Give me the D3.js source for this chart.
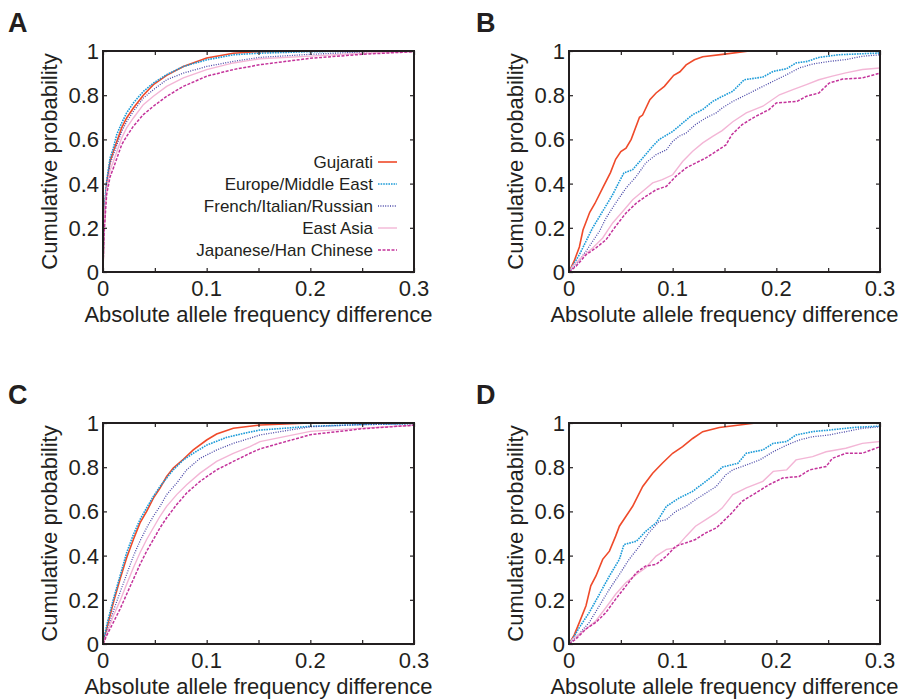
<html>
<head>
<title>Cumulative probability of allele frequency differences</title>
<style>
    body { margin: 0; background: #fff; }
    svg { display: block; }
    text { font-family: "Liberation Sans", Arial, Helvetica, sans-serif; fill: #231f20; }
</style>
</head>
<body>
<script src="https://d3js.org/d3.v7.min.js"></script>
<script>
    // Chart values
    const populations = ["Gujarati", "Europe/Middle East", "French/Italian/Russian", "East Asia", "Japanese/Han Chinese"];
    const panelLetters = ["A", "B", "C", "D"];
    const xTicks = [0, 0.1, 0.2, 0.3];
    const xTickLabels = ["0", "0.1", "0.2", "0.3"];
    const yTicks = [0, 0.2, 0.4, 0.6, 0.8, 1];
    const yTickLabels = ["0", "0.2", "0.4", "0.6", "0.8", "1"];
    const xMinorTicks = [0, 0.05, 0.1, 0.15, 0.2, 0.25, 0.3];

    // Panel A
    const aGujarati = [[0,0],[0.0005,0.12],[0.001,0.19],[0.002,0.31],[0.0035,0.40],[0.0068,0.50],[0.01,0.546],[0.018,0.652],[0.0228,0.697],[0.0293,0.742],[0.0389,0.80],[0.0486,0.848],[0.0614,0.89],[0.0775,0.93],[0.1,0.968],[0.1257,0.99],[0.15,0.997],[0.2,1],[0.3,1]];
    const aEurope = [[0,0],[0.0005,0.13],[0.001,0.2],[0.0019,0.32],[0.0035,0.41],[0.0068,0.516],[0.01,0.561],[0.0132,0.621],[0.018,0.674],[0.0228,0.72],[0.0293,0.765],[0.0389,0.817],[0.0486,0.855],[0.0614,0.893],[0.0775,0.93],[0.1,0.96],[0.1257,0.983],[0.15,0.99],[0.2,0.997],[0.3,1]];
    const aFrench = [[0,0],[0.0005,0.12],[0.001,0.19],[0.002,0.30],[0.0035,0.39],[0.0068,0.49],[0.01,0.53],[0.018,0.636],[0.0228,0.68],[0.0293,0.727],[0.0389,0.787],[0.0486,0.825],[0.0614,0.87],[0.0775,0.90],[0.1,0.93],[0.1257,0.953],[0.1514,0.971],[0.2,0.985],[0.25,0.995],[0.3,1]];
    const aEastAsia = [[0,0],[0.0005,0.11],[0.001,0.18],[0.002,0.29],[0.0035,0.37],[0.0068,0.46],[0.01,0.50],[0.018,0.606],[0.0228,0.652],[0.0293,0.697],[0.0389,0.757],[0.0486,0.795],[0.0614,0.84],[0.0775,0.878],[0.1,0.916],[0.1257,0.946],[0.1514,0.965],[0.2,0.977],[0.25,0.99],[0.3,0.998]];
    const aJapanese = [[0,0],[0.0005,0.10],[0.001,0.17],[0.0035,0.35],[0.0068,0.43],[0.01,0.47],[0.018,0.576],[0.0228,0.614],[0.0293,0.66],[0.0389,0.712],[0.0486,0.75],[0.0614,0.795],[0.0775,0.84],[0.1,0.886],[0.1257,0.916],[0.1514,0.938],[0.2,0.967],[0.25,0.985],[0.3,0.997]];

    // Panel B
    const bGujarati = [[0,0],[0.005,0.05],[0.01,0.113],[0.0135,0.19],[0.02,0.27],[0.025,0.31],[0.033,0.385],[0.04,0.45],[0.045,0.51],[0.05,0.545],[0.055,0.56],[0.06,0.60],[0.068,0.70],[0.071,0.71],[0.078,0.78],[0.084,0.81],[0.092,0.84],[0.101,0.89],[0.107,0.906],[0.113,0.937],[0.121,0.96],[0.129,0.974],[0.15,0.986],[0.174,1],[0.3,1]];
    const bEurope = [[0,0],[0.005,0.04],[0.01,0.078],[0.0164,0.139],[0.0228,0.2],[0.0293,0.25],[0.0357,0.30],[0.0421,0.35],[0.0486,0.41],[0.053,0.448],[0.0614,0.463],[0.0711,0.516],[0.0807,0.569],[0.0871,0.60],[0.1,0.636],[0.1096,0.674],[0.1193,0.712],[0.129,0.735],[0.1386,0.772],[0.148,0.795],[0.158,0.818],[0.169,0.87],[0.187,0.882],[0.197,0.908],[0.21,0.92],[0.219,0.946],[0.23,0.953],[0.241,0.971],[0.26,0.983],[0.3,0.991]];
    const bFrench = [[0,0],[0.0068,0.033],[0.0164,0.094],[0.0228,0.139],[0.0293,0.184],[0.0357,0.244],[0.045,0.312],[0.055,0.38],[0.065,0.433],[0.074,0.493],[0.084,0.531],[0.094,0.553],[0.1,0.591],[0.106,0.614],[0.113,0.629],[0.122,0.667],[0.132,0.697],[0.142,0.72],[0.1477,0.742],[0.158,0.772],[0.171,0.802],[0.184,0.833],[0.197,0.863],[0.21,0.893],[0.222,0.923],[0.235,0.941],[0.251,0.953],[0.267,0.961],[0.283,0.976],[0.3,0.983]];
    const bEastAsia = [[0,0],[0.0035,0.026],[0.013,0.07],[0.0228,0.109],[0.0325,0.154],[0.0421,0.222],[0.052,0.275],[0.0614,0.327],[0.0711,0.365],[0.0807,0.403],[0.09,0.418],[0.1,0.44],[0.1096,0.50],[0.1193,0.546],[0.129,0.584],[0.1386,0.614],[0.1477,0.64],[0.158,0.68],[0.171,0.72],[0.187,0.75],[0.203,0.802],[0.216,0.825],[0.229,0.848],[0.241,0.87],[0.254,0.886],[0.267,0.901],[0.283,0.916],[0.3,0.923]];
    const bJapanese = [[0,0],[0.0068,0.026],[0.0164,0.078],[0.026,0.109],[0.0357,0.146],[0.045,0.207],[0.055,0.267],[0.065,0.312],[0.074,0.342],[0.084,0.372],[0.094,0.388],[0.103,0.433],[0.113,0.471],[0.122,0.493],[0.132,0.516],[0.142,0.546],[0.1514,0.575],[0.157,0.621],[0.167,0.667],[0.18,0.704],[0.193,0.735],[0.2,0.765],[0.22,0.772],[0.229,0.795],[0.241,0.81],[0.251,0.855],[0.264,0.873],[0.283,0.878],[0.3,0.90]];

    // Panel C
    const cGujarati = [[0,0],[0.0035,0.068],[0.01,0.188],[0.0164,0.293],[0.0228,0.39],[0.0293,0.473],[0.0357,0.548],[0.0421,0.60],[0.0486,0.66],[0.055,0.706],[0.0614,0.758],[0.0678,0.796],[0.0775,0.836],[0.0871,0.878],[0.1,0.923],[0.1096,0.95],[0.1257,0.976],[0.1514,0.991],[0.2,1],[0.3,1]];
    const cEurope = [[0,0],[0.0035,0.083],[0.01,0.203],[0.0164,0.308],[0.0228,0.413],[0.0293,0.495],[0.0357,0.563],[0.0421,0.616],[0.0486,0.668],[0.055,0.713],[0.0614,0.751],[0.0678,0.788],[0.0775,0.833],[0.0871,0.863],[0.1,0.90],[0.1193,0.935],[0.1386,0.956],[0.1514,0.968],[0.2,0.985],[0.25,0.993],[0.3,0.997]];
    const cFrench = [[0,0],[0.0035,0.053],[0.01,0.15],[0.0164,0.233],[0.0228,0.315],[0.0293,0.398],[0.0357,0.466],[0.0421,0.526],[0.0486,0.578],[0.055,0.623],[0.0614,0.676],[0.0711,0.728],[0.0807,0.788],[0.0936,0.84],[0.1096,0.878],[0.1257,0.908],[0.1418,0.931],[0.1514,0.946],[0.2,0.983],[0.25,0.993],[0.3,0.997]];
    const cEastAsia = [[0,0],[0.0035,0.045],[0.01,0.128],[0.0164,0.195],[0.0228,0.27],[0.0293,0.345],[0.0357,0.413],[0.0421,0.473],[0.0486,0.526],[0.055,0.578],[0.0614,0.623],[0.0711,0.676],[0.0807,0.721],[0.0936,0.773],[0.1096,0.826],[0.1257,0.863],[0.1418,0.893],[0.1514,0.916],[0.2,0.962],[0.25,0.977],[0.3,0.99]];
    const cJapanese = [[0,0],[0.0035,0.038],[0.01,0.098],[0.0164,0.158],[0.0228,0.225],[0.0293,0.293],[0.0357,0.36],[0.0421,0.42],[0.0486,0.473],[0.055,0.526],[0.0614,0.571],[0.0711,0.631],[0.0807,0.683],[0.0936,0.736],[0.1096,0.788],[0.1257,0.826],[0.1418,0.863],[0.1514,0.883],[0.2,0.947],[0.25,0.974],[0.3,0.99]];

    // Panel D
    const dGujarati = [[0,0],[0.005,0.04],[0.01,0.098],[0.0164,0.173],[0.021,0.263],[0.026,0.308],[0.0325,0.383],[0.039,0.42],[0.045,0.488],[0.0486,0.533],[0.055,0.578],[0.0614,0.623],[0.0711,0.713],[0.0807,0.773],[0.09,0.818],[0.1,0.863],[0.1096,0.893],[0.1193,0.93],[0.129,0.961],[0.145,0.98],[0.18,1],[0.3,1]];
    const dEurope = [[0,0],[0.005,0.035],[0.01,0.075],[0.0196,0.143],[0.0293,0.225],[0.039,0.308],[0.0486,0.383],[0.053,0.45],[0.065,0.465],[0.074,0.51],[0.084,0.548],[0.094,0.623],[0.106,0.66],[0.119,0.69],[0.132,0.736],[0.142,0.773],[0.1477,0.80],[0.163,0.818],[0.171,0.863],[0.187,0.878],[0.197,0.908],[0.21,0.916],[0.219,0.946],[0.235,0.961],[0.251,0.968],[0.275,0.98],[0.3,0.986]];
    const dFrench = [[0,0],[0.0068,0.03],[0.0196,0.098],[0.0293,0.173],[0.039,0.248],[0.0486,0.315],[0.058,0.383],[0.068,0.443],[0.077,0.503],[0.087,0.555],[0.094,0.563],[0.103,0.60],[0.113,0.623],[0.122,0.653],[0.132,0.683],[0.142,0.713],[0.1514,0.766],[0.158,0.788],[0.171,0.81],[0.184,0.833],[0.197,0.87],[0.21,0.90],[0.222,0.923],[0.235,0.938],[0.251,0.946],[0.267,0.961],[0.283,0.976],[0.3,0.983]];
    const dEastAsia = [[0,0],[0.0035,0.023],[0.0164,0.068],[0.026,0.105],[0.0357,0.165],[0.045,0.225],[0.055,0.278],[0.065,0.315],[0.074,0.345],[0.084,0.398],[0.094,0.428],[0.103,0.435],[0.113,0.488],[0.122,0.533],[0.132,0.563],[0.142,0.593],[0.1477,0.615],[0.158,0.676],[0.171,0.706],[0.187,0.736],[0.197,0.781],[0.21,0.788],[0.219,0.833],[0.235,0.848],[0.248,0.87],[0.267,0.886],[0.283,0.908],[0.3,0.916]];
    const dJapanese = [[0,0],[0.0068,0.023],[0.0164,0.068],[0.026,0.098],[0.0357,0.143],[0.045,0.203],[0.055,0.263],[0.065,0.323],[0.074,0.353],[0.084,0.36],[0.094,0.398],[0.103,0.443],[0.113,0.458],[0.122,0.473],[0.132,0.503],[0.142,0.525],[0.1477,0.55],[0.157,0.593],[0.167,0.646],[0.18,0.683],[0.193,0.721],[0.206,0.751],[0.222,0.758],[0.232,0.788],[0.248,0.803],[0.254,0.84],[0.267,0.863],[0.283,0.863],[0.3,0.893]];

    const panelSeries = [
        [aGujarati, aEurope, aFrench, aEastAsia, aJapanese],
        [bGujarati, bEurope, bFrench, bEastAsia, bJapanese],
        [cGujarati, cEurope, cFrench, cEastAsia, cJapanese],
        [dGujarati, dEurope, dFrench, dEastAsia, dJapanese]
    ];

    // line styles per population
    const styles = [
        { color: "#ef4a2a", width: 1.6, dash: null },
        { color: "#1c9bd8", width: 1.6, dash: "1.6,1" },
        { color: "#4a48a8", width: 1.3, dash: "1,1.4" },
        { color: "#f3b6d6", width: 1.4, dash: null },
        { color: "#c4339b", width: 1.5, dash: "3,1.5" }
    ];

    const width = 900, height = 700;
    const plotW = 311, plotH = 221;
    const panelPos = [
        { left: 103, top: 51 },
        { left: 569, top: 51 },
        { left: 103, top: 423 },
        { left: 569, top: 423 }
    ];

    const svg = d3.select("body").append("svg")
        .attr("width", width)
        .attr("height", height);

    const xScale = d3.scaleLinear().domain([0, 0.3]).range([0, plotW]);
    const yScale = d3.scaleLinear().domain([0, 1]).range([plotH, 0]);

    const line = d3.line()
        .x(d => xScale(d[0]))
        .y(d => yScale(d[1]));

    panelPos.forEach((pos, p) => {
        const g = svg.append("g").attr("transform", `translate(${pos.left},${pos.top})`);

        // curves
        panelSeries[p].forEach((series, i) => {
            g.append("path")
                .datum(series)
                .attr("fill", "none")
                .attr("stroke", styles[i].color)
                .attr("stroke-width", styles[i].width)
                .attr("stroke-dasharray", styles[i].dash)
                .attr("d", line);
        });

        // axes with inward ticks on every side
        const xAxis = d3.axisBottom(xScale).tickValues(xMinorTicks).tickSize(-4).tickFormat("");
        const xAxisTop = d3.axisTop(xScale).tickValues(xMinorTicks).tickSize(-4).tickFormat("");
        const yAxis = d3.axisLeft(yScale).tickValues(yTicks).tickSize(-4).tickFormat("");
        const yAxisRight = d3.axisRight(yScale).tickValues(yTicks).tickSize(-4).tickFormat("");

        g.append("g").attr("transform", `translate(0,${plotH})`).call(xAxis);
        g.append("g").call(xAxisTop);
        g.append("g").call(yAxis);
        g.append("g").attr("transform", `translate(${plotW},0)`).call(yAxisRight);
        g.selectAll(".domain").remove();
        g.selectAll(".tick line").attr("stroke", "#231f20").attr("stroke-width", 1.2);

        g.append("rect")
            .attr("width", plotW)
            .attr("height", plotH)
            .attr("fill", "none")
            .attr("stroke", "#231f20")
            .attr("stroke-width", 2);

        // tick labels
        g.selectAll(".xlab")
            .data(xTicks)
            .enter().append("text")
            .attr("x", d => xScale(d))
            .attr("y", plotH + 24)
            .attr("text-anchor", "middle")
            .style("font-size", "22px")
            .text((d, i) => xTickLabels[i]);

        g.selectAll(".ylab")
            .data(yTicks)
            .enter().append("text")
            .attr("x", -4)
            .attr("y", d => yScale(d) + 8)
            .attr("text-anchor", "end")
            .style("font-size", "22px")
            .text((d, i) => yTickLabels[i]);

        // axis titles
        g.append("text")
            .attr("x", plotW / 2)
            .attr("y", plotH + 50)
            .attr("text-anchor", "middle")
            .style("font-size", "22px")
            .text("Absolute allele frequency difference");

        g.append("text")
            .attr("transform", `translate(-46,${plotH / 2}) rotate(-90)`)
            .attr("text-anchor", "middle")
            .style("font-size", "22px")
            .text("Cumulative probability");

        // panel letter
        g.append("text")
            .attr("x", p % 2 === 0 ? -95 : -93)
            .attr("y", -19)
            .style("font-size", "27px")
            .style("font-weight", "bold")
            .text(panelLetters[p]);

        // legend only in panel A
        if (p === 0) {
            populations.forEach((name, i) => {
                const ly = 111 + i * 22;
                g.append("text")
                    .attr("x", 270)
                    .attr("y", ly + 6)
                    .attr("text-anchor", "end")
                    .style("font-size", "17px")
                    .text(name);
                g.append("line")
                    .attr("x1", 275).attr("x2", 294)
                    .attr("y1", ly).attr("y2", ly)
                    .attr("stroke", styles[i].color)
                    .attr("stroke-width", styles[i].width)
                    .attr("stroke-dasharray", styles[i].dash);
            });
        }
    });
</script>
</body>
</html>
